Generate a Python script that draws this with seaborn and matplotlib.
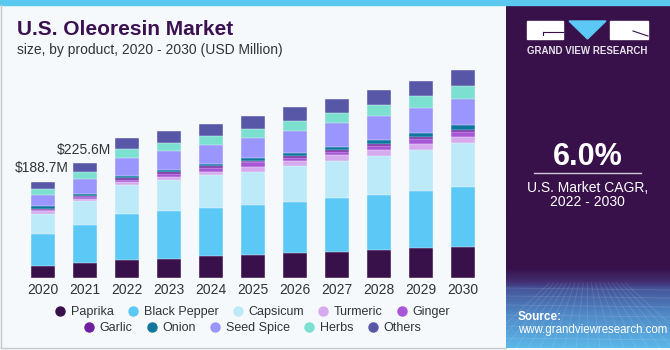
import numpy as np
import pandas as pd
import matplotlib
matplotlib.use("Agg")
import matplotlib.pyplot as plt
from matplotlib.colors import LinearSegmentedColormap
from matplotlib.patches import Rectangle, Polygon
from matplotlib.lines import Line2D
import seaborn as sns

# data (USD million)
years = ["2020", "2021", "2022", "2023", "2024", "2025", "2026", "2027", "2028", "2029", "2030"]
products = ["Paprika", "Black Pepper", "Capsicum", "Turmeric", "Ginger",
            "Garlic", "Onion", "Seed Spice", "Herbs", "Others"]
paprika = [24.2, 29.5, 36.0, 37.4, 43.3, 45.8, 48.6, 50.5, 55.6, 58.4, 61.5]
black_pepper = [62.3, 74.1, 89.1, 94.4, 94.4, 98.3, 100.3, 106.2, 106.8, 112.1, 118.0]
capsicum = [39.9, 47.8, 58.4, 61.5, 64.9, 64.9, 72.2, 74.1, 77.3, 81.2, 86.5]
turmeric = [4.6, 3.9, 4.5, 5.3, 6.5, 9.8, 9.8, 10.4, 11.8, 11.8, 11.8]
ginger = [3.3, 3.9, 5.3, 5.3, 6.5, 8.5, 5.9, 7.3, 8.5, 9.2, 9.8]
garlic = [2.0, 2.0, 3.3, 3.9, 3.9, 2.6, 3.3, 3.3, 3.9, 4.5, 3.9]
onion = [4.5, 3.3, 4.5, 5.3, 5.3, 5.3, 5.9, 5.9, 6.5, 7.9, 8.5]
seed_spice = [21.6, 29.5, 34.8, 37.4, 37.4, 39.3, 43.8, 46.6, 47.2, 48.6, 51.7]
herbs = [11.8, 14.5, 17.7, 15.7, 17.7, 19.1, 19.1, 19.7, 22.2, 23.6, 25.0]
others = [14.5, 17.1, 21.6, 23.6, 23.6, 25.6, 26.9, 28.9, 30.1, 30.9, 32.8]
labelled = {"2020": "$188.7M", "2021": "$225.6M"}

colors = ["#38104A", "#5BC8F5", "#BDEAF9", "#D6AAEE", "#A855D6",
          "#6E1E9E", "#10769E", "#9B96FE", "#7BE0CF", "#5856A6"]

df = pd.DataFrame(
    [paprika, black_pepper, capsicum, turmeric, ginger, garlic, onion, seed_spice, herbs, others],
    index=products, columns=years).T

BG = "#F5F9FC"
PURPLE = "#38114A"
plt.rcParams["font.family"] = ["Liberation Sans", "DejaVu Sans"]

fig = plt.figure(figsize=(6.7, 3.5), dpi=100, facecolor=BG)

# background / decoration layer in pixel coordinates
deco = fig.add_axes([0, 0, 1, 1], zorder=-1)
deco.set_xlim(0, 670)
deco.set_ylim(350, 0)
deco.axis("off")

# right panel with gradient bottom
cmap = LinearSegmentedColormap.from_list(
    "panel", [(0.0, "#5BB6E8"), (0.10, "#4F86C4"), (0.17, "#46569A"),
              (0.19, "#432F72"), (0.23, PURPLE), (1.0, PURPLE)])
grad = np.linspace(0, 1, 300).reshape(-1, 1)
deco.imshow(grad, cmap=cmap, aspect="auto", origin="lower",
            extent=(506, 670, 348, 5), zorder=1)
# faint mesh in the panel bottom
for yy in [288, 296, 305, 315, 326, 338]:
    deco.plot([506, 670], [yy, yy + 2], color="white", alpha=0.12, lw=0.6, zorder=2)
for xx in np.arange(480, 700, 12):
    deco.plot([587 + (xx - 587) * 0.35, xx], [283, 348], color="white", alpha=0.12, lw=0.6, zorder=2)

# top stripe and left border
deco.add_patch(Rectangle((0, 0), 670, 5, color="#5BC8EF", zorder=3))
deco.plot([1, 1], [5, 348], color="#C8C8C8", lw=1, zorder=3)
deco.plot([1, 506], [348, 348], color="#C8C8C8", lw=1, zorder=3)

# logo
deco.add_patch(Rectangle((527, 21), 36, 18, color="white", zorder=4))
deco.plot([543, 563], [32, 32], color=PURPLE, lw=0.8, zorder=5)
deco.plot([543, 543], [32, 35], color=PURPLE, lw=0.8, zorder=5)
deco.add_patch(Polygon([(569, 21), (606, 21), (587.5, 39)], color="#5BC8F5", zorder=4))
deco.add_patch(Rectangle((610, 21), 38, 18, color="white", zorder=4))
deco.plot([633, 648], [31, 36], color=PURPLE, lw=0.8, zorder=5)
deco.text(587.5, 51, "GRAND VIEW RESEARCH", color="#E6E2EA", fontsize=7,
          fontweight="bold", ha="center", va="center", zorder=5)

deco.text(587.5, 157, "6.0%", color="white", fontsize=22, fontweight="bold",
          ha="center", va="center", zorder=5)
deco.plot([534, 641], [173, 173], color="#CFC8D6", lw=1, zorder=5)
deco.text(587.5, 187.5, "U.S. Market CAGR,", color="white", fontsize=10,
          ha="center", va="center", zorder=5)
deco.text(587.5, 201.5, "2022 - 2030", color="white", fontsize=10,
          ha="center", va="center", zorder=5)
deco.text(518, 317, "Source:", color="white", fontsize=8.5, fontweight="bold",
          ha="left", va="center", zorder=5)
deco.text(518, 330, "www.grandviewresearch.com", color="white", fontsize=8.3,
          ha="left", va="center", zorder=5)

# titles
fig.text(17 / 670, 1 - 35 / 350, "U.S. Oleoresin Market", color="#3B1151",
         fontsize=15, fontweight="bold", ha="left", va="baseline")
fig.text(17 / 670, 1 - 54 / 350, "size, by product, 2020 - 2030 (USD Million)",
         color="#333333", fontsize=10, ha="left", va="baseline")

# chart: stacked bars by overlaying cumulative totals
ax = fig.add_axes([22 / 670, 72 / 350, 462 / 670, 218 / 350])
ax.patch.set_alpha(0)
cum = df.cumsum(axis=1)
for name, col in zip(products[::-1], colors[::-1]):
    sns.barplot(x=cum.index, y=cum[name].values, color=col, width=0.57,
                saturation=1, errorbar=None, edgecolor=BG, linewidth=0.3, ax=ax)

totals = df.sum(axis=1)
for i, yr in enumerate(years):
    if yr in labelled:
        ax.text(i + 0.62, totals[yr] + 27, labelled[yr], ha="right", va="center",
                fontsize=10, color="#333333")

ax.set_xlim(-0.5, 10.5)
ax.set_ylim(0, 428.6)
ax.set_xlabel("")
ax.set_ylabel("")
ax.set_yticks([])
ax.tick_params(axis="x", length=0, pad=3.5, labelsize=10, labelcolor="#333333")
for s in ax.spines.values():
    s.set_visible(False)

# legend in two centered rows
handles = [Line2D([], [], marker="o", ls="", markersize=6.5, color=c) for c in colors]
for row, yc in [(slice(0, 5), 312), (slice(5, 10), 328)]:
    leg = fig.legend(handles[row], products[row], ncol=5, loc="center",
                     bbox_to_anchor=(252 / 670, 1 - yc / 350), frameon=False,
                     fontsize=9, handletextpad=0.35, columnspacing=1.05,
                     handlelength=1.0, borderpad=0, labelcolor="#333333")

fig.savefig("out.png", dpi=100, facecolor=BG)
